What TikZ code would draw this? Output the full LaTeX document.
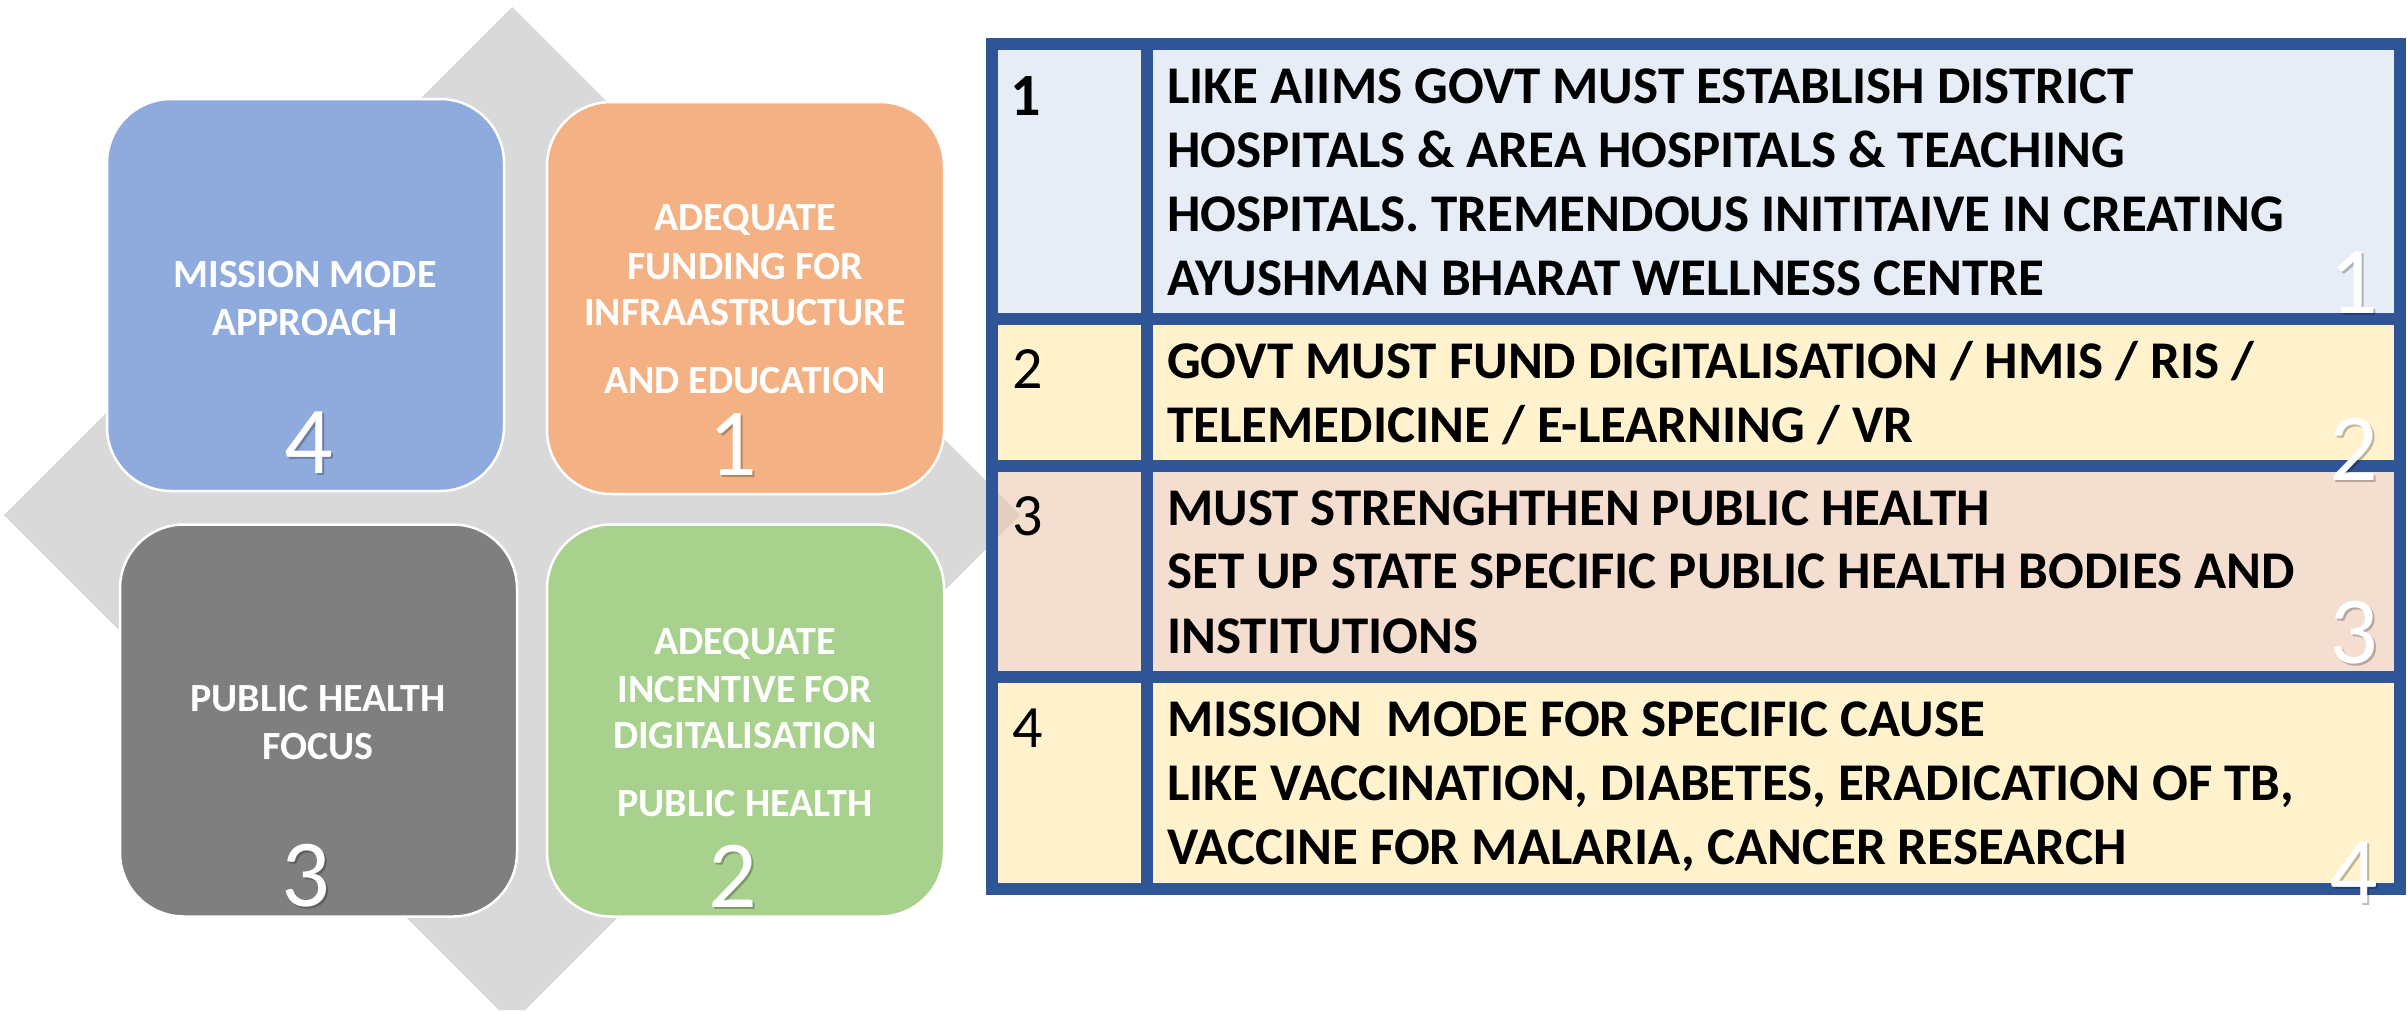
\documentclass[tikz,border=0pt]{standalone}
\usepackage{fontspec}
\setmainfont{Carlito}
\definecolor{diam}{HTML}{D9D9D9}
\definecolor{sqblue}{HTML}{8FAADC}
\definecolor{sqorange}{HTML}{F4B183}
\definecolor{sqgray}{HTML}{7F7F7F}
\definecolor{sqgreen}{HTML}{A9D18E}
\definecolor{tblue}{HTML}{2F5597}
\definecolor{rowblue}{HTML}{E7EDF7}
\definecolor{rowyellow}{HTML}{FFF2CC}
\definecolor{rowpeach}{RGB}{237,200,175}
\begin{document}
\begin{tikzpicture}[x=1pt,y=-1pt,
  sq/.style={draw=white,line width=2.5pt,rounded corners=64pt,minimum width=397pt,minimum height=392pt,inner sep=0pt},
  sqtxt/.style={text=white,font=\bfseries\fontsize{40}{48}\selectfont,anchor=base,inner sep=0pt},
  bignum/.style={text=white,font=\fontsize{96}{100}\selectfont,anchor=base,inner sep=0pt},
  bigshadow/.style={text=black,text opacity=0.25,font=\fontsize{96}{100}\selectfont,anchor=base,inner sep=0pt},
  tbl/.style={draw=tblue,line width=12pt},
  rowtxt/.style={text=black,font=\bfseries\fontsize{53}{62}\selectfont,anchor=base west,inner sep=0pt},
  rownum/.style={text=black,font=\fontsize{60}{62}\selectfont,anchor=base west,inner sep=0pt}
]
\useasboundingbox (0,0) rectangle (2407,1010);
% background diamond
\fill[diam] (512,7) -- (1020,515) -- (525,1010) -- (499,1010) -- (4,515) -- cycle;
% table fills
\fill[rowblue] (992,44) rectangle (2400,319);
\fill[rowyellow] (992,319) rectangle (2400,466);
\fill[rowpeach,fill opacity=0.6] (992,466) rectangle (2400,677);
\fill[rowyellow] (992,677) rectangle (2400,889);
% table lines
\draw[tbl,line join=miter] (992,44) rectangle (2400,889);
\draw[tbl] (992,319) -- (2400,319);
\draw[tbl] (992,466) -- (2400,466);
\draw[tbl] (992,677) -- (2400,677);
\draw[tbl] (1147,44) -- (1147,889);
% squares
\node[sq,fill=sqblue] (sq4) at (305.5,295) {};
\node[sq,fill=sqorange] (sq1) at (745.5,298) {};
\node[sq,fill=sqgray] (sq3) at (318.5,720.5) {};
\node[sq,fill=sqgreen] (sq2) at (745.5,720.5) {};
% square texts
\node[sqtxt] (s4a) at (305,287) {MISSION MODE};
\node[sqtxt] (s4b) at (305,335) {APPROACH};
\node[sqtxt] (s1a) at (745,230) {ADEQUATE};
\node[sqtxt] (s1b) at (745,279) {FUNDING FOR};
\node[sqtxt] (s1c) at (745,325) {INFRAASTRUCTURE};
\node[sqtxt] (s1d) at (745,393) {AND EDUCATION};
\node[sqtxt] (s3a) at (318,711) {PUBLIC HEALTH};
\node[sqtxt] (s3b) at (318,759) {FOCUS};
\node[sqtxt] (s2a) at (745,654) {ADEQUATE};
\node[sqtxt] (s2b) at (745,702) {INCENTIVE FOR};
\node[sqtxt] (s2c) at (745,748) {DIGITALISATION};
\node[sqtxt] (s2d) at (745,816) {PUBLIC HEALTH};
% square numbers
\node[bigshadow] (n4s) at (311,475) {4};
\node[bignum] (n4) at (309,473) {4};
\node[bigshadow] (n1s) at (735,477) {1};
\node[bignum] (n1) at (733,475) {1};
\node[bigshadow] (n3s) at (308,908) {3};
\node[bignum] (n3) at (306,906) {3};
\node[bigshadow] (n2s) at (735,909) {2};
\node[bignum] (n2) at (733,907) {2};
% table row numbers
\node[rownum,font=\bfseries\fontsize{60}{62}\selectfont] (r1n) at (1010,115) {1};
\node[rownum] (r2n) at (1012,388) {2};
\node[rownum] (r3n) at (1012,535) {3};
\node[rownum] (r4n) at (1012,747) {4};
% table texts
\node[rowtxt] (r1a) at (1167,103) {LIKE AIIMS GOVT MUST ESTABLISH DISTRICT};
\node[rowtxt] (r1b) at (1167,167) {HOSPITALS \& AREA HOSPITALS \& TEACHING};
\node[rowtxt] (r1c) at (1167,231) {HOSPITALS. TREMENDOUS INITITAIVE IN CREATING};
\node[rowtxt] (r1d) at (1167,295) {AYUSHMAN BHARAT WELLNESS CENTRE};
\node[rowtxt] (r2a) at (1167,378) {GOVT MUST FUND DIGITALISATION / HMIS / RIS /};
\node[rowtxt] (r2b) at (1167,442) {TELEMEDICINE / E-LEARNING / VR};
\node[rowtxt] (r3a) at (1167,525) {MUST STRENGHTHEN PUBLIC HEALTH};
\node[rowtxt] (r3b) at (1167,588) {SET UP STATE SPECIFIC PUBLIC HEALTH BODIES AND};
\node[rowtxt] (r3c) at (1167,653) {INSTITUTIONS};
\node[rowtxt] (r4a) at (1167,736) {MISSION\ \ MODE FOR SPECIFIC CAUSE};
\node[rowtxt] (r4b) at (1167,800) {LIKE VACCINATION, DIABETES, ERADICATION OF TB,};
\node[rowtxt] (r4c) at (1167,864) {VACCINE FOR MALARIA, CANCER RESEARCH};
% white corner numbers in table
\node[bigshadow,anchor=base east] (c1s) at (2380,315) {1};
\node[bignum,anchor=base east] (c1) at (2378,313) {1};
\node[bigshadow,anchor=base east] (c2s) at (2380,482) {2};
\node[bignum,anchor=base east] (c2) at (2378,480) {2};
\node[bigshadow,anchor=base east] (c3s) at (2380,665) {3};
\node[bignum,anchor=base east] (c3) at (2378,663) {3};
\node[bigshadow,anchor=base east] (c4s) at (2380,905) {4};
\node[bignum,anchor=base east] (c4) at (2378,903) {4};
\end{tikzpicture}
\end{document}
